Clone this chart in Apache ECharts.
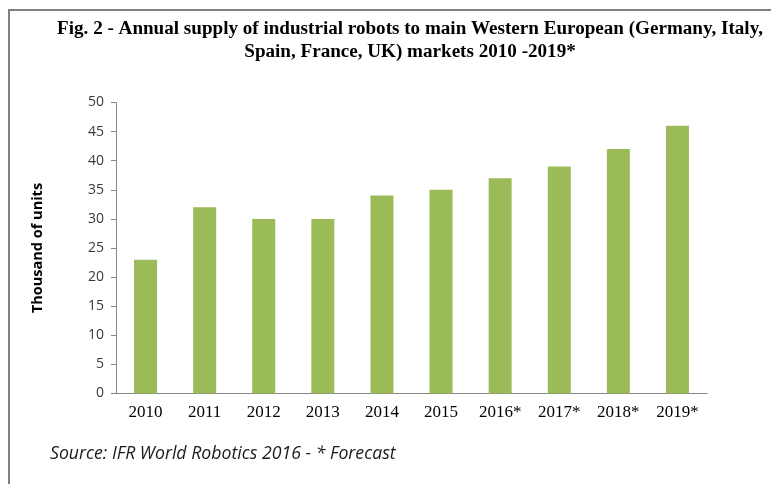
<!DOCTYPE html>
<html lang="en">
<head>
    <meta charset="utf-8">
    <title>Fig. 2 - Annual supply of industrial robots</title>
    <script src="https://cdn.jsdelivr.net/npm/echarts@6/dist/echarts.min.js"></script>
    <style>
        html, body { margin: 0; padding: 0; background: #fff; }
        #main { width: 771px; height: 484px; }
    </style>
</head>
<body>
<div id="main"></div>

<script type="text/javascript">
    // data
    var years = ['2010', '2011', '2012', '2013', '2014', '2015', '2016*', '2017*', '2018*', '2019*'];
    var supply = [23, 32, 30, 30, 34, 35, 37, 39, 42, 46];
    var yTicks = { min: 0, max: 50, step: 5 };

    var myChart = echarts.init(document.getElementById('main'));

    myChart.setOption({
        animation: false,
        title: {
            text: 'Fig. 2 - Annual supply of industrial robots to main Western European (Germany, Italy,\nSpain, France, UK) markets 2010 -2019*',
            left: 405,
            top: 13,
            textAlign: 'center',
            textStyle: {
                fontFamily: 'Liberation Serif',
                fontWeight: 'bold',
                fontSize: 19.1,
                lineHeight: 23,
                color: '#000'
            }
        },
        graphic: [
            // frame: top and left edges only
            { type: 'rect', shape: { x: 8, y: 9, width: 763, height: 2 }, style: { fill: '#808080' } },
            { type: 'rect', shape: { x: 8, y: 9, width: 2, height: 475 }, style: { fill: '#808080' } },
            {
                type: 'text',
                left: 50,
                top: 445,
                style: {
                    text: 'Source: IFR World Robotics 2016 - * Forecast',
                    fontFamily: 'Open Sans',
                    fontStyle: 'italic',
                    fontSize: 17.7,
                    fill: '#1a1a1a'
                }
            }
        ],
        grid: { left: 116, right: 64, top: 102.5, bottom: 90.5 },
        xAxis: {
            type: 'category',
            data: years,
            axisLine: { lineStyle: { color: '#868686', width: 1 } },
            axisTick: { length: 5, lineStyle: { color: '#868686' } },
            axisLabel: {
                margin: 11,
                fontFamily: 'Liberation Serif',
                fontSize: 17,
                color: '#000'
            }
        },
        yAxis: {
            type: 'value',
            min: yTicks.min,
            max: yTicks.max,
            interval: yTicks.step,
            name: 'Thousand of units',
            nameLocation: 'middle',
            nameGap: 71,
            nameRotate: 90,
            nameTextStyle: {
                fontFamily: 'Open Sans',
                fontWeight: 'bold',
                fontSize: 14.5,
                color: '#000'
            },
            splitLine: { show: false },
            axisLine: { show: true, lineStyle: { color: '#868686', width: 1 } },
            axisTick: { show: true, length: 5, lineStyle: { color: '#868686' } },
            axisLabel: {
                margin: 12,
                fontFamily: 'Open Sans',
                fontSize: 14,
                color: '#3a3a3a'
            }
        },
        series: [{
            name: 'Supply',
            type: 'bar',
            data: supply,
            barWidth: 23,
            itemStyle: { color: '#9bbb59' }
        }]
    });
</script>
</body>
</html>
